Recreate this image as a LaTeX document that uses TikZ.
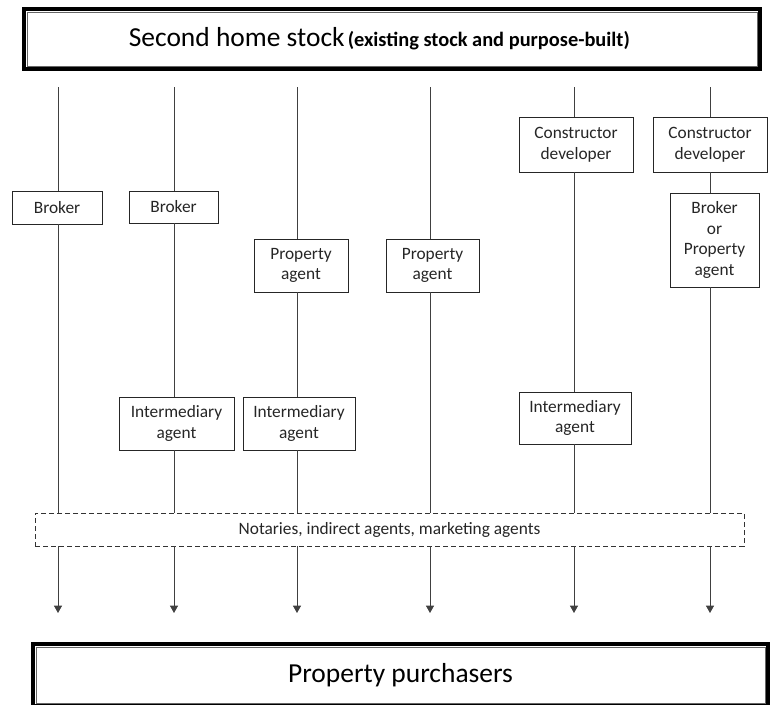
\documentclass[tikz,border=0pt]{standalone}
\usepackage{fontspec}
\setmainfont{Carlito}
\usetikzlibrary{arrows.meta}

\tikzset{
  agentbox/.style={draw=black!85, line width=0.7pt, fill=white, align=center,
                   inner sep=0pt, text=black!85,
                   font=\fontsize{13}{15.5}\selectfont},
  boxsize/.style 2 args={minimum width=#1*0.75pt, minimum height=#2*0.75pt},
  framebox/.style={draw=black, line width=2.6pt, fill=white, inner sep=0pt},
  innerframe/.style={draw=black!60, line width=0.6pt},
  notesbox/.style={agentbox, draw=black!80, dash pattern=on 4pt off 2pt},
  flow/.style={draw=black!75, line width=0.7pt},
  tip/.style={-{Triangle[width=6pt,length=5.5pt]}},
}

\begin{document}
\begin{tikzpicture}[x=0.75pt,y=-0.75pt]
\clip (0,0) rectangle (771,704);
\useasboundingbox (0,0) rectangle (771,704);

% column start and end points
\coordinate (t1) at (58,87);  \coordinate (e1) at (58,613);
\coordinate (t2) at (174,87); \coordinate (e2) at (174,613);
\coordinate (t3) at (297,87); \coordinate (e3) at (297,613);
\coordinate (t4) at (430,87); \coordinate (e4) at (430,613);
\coordinate (t5) at (574,87); \coordinate (e5) at (574,613);
\coordinate (t6) at (710,87); \coordinate (e6) at (710,613);

% top and bottom frames
\node[framebox, boxsize={736}{60}] (stock) at (392,39)
  {{\fontsize{20.6}{25}\selectfont Second home stock}
   {\fontsize{15.3}{19}\selectfont\bfseries (existing stock and purpose-built)}\hspace*{19pt}};
\draw[innerframe] ([xshift=3.6pt,yshift=3.6pt]stock.south west)
  rectangle ([xshift=-3.6pt,yshift=-3.6pt]stock.north east);

\node[framebox, boxsize={735}{62}] (buyers) at (400.5,675)
  {\fontsize{20.6}{25}\selectfont Property purchasers};
\draw[innerframe] ([xshift=3.6pt,yshift=3.6pt]buyers.south west)
  rectangle ([xshift=-3.6pt,yshift=-4pt]buyers.north east);

% agents
\node[agentbox, boxsize={90}{33}] (brk1) at (57,207.5) {Broker};
\node[agentbox, boxsize={89}{32}] (brk2) at (173.5,207) {Broker};
\node[agentbox, boxsize={94}{53}] (pa1) at (301,265.5) {Property\\agent};
\node[agentbox, boxsize={93}{53}] (pa2) at (432.5,265.5) {Property\\agent};
\node[agentbox, boxsize={114}{55}] (cd1) at (576,144.5) {Constructor\\developer};
\node[agentbox, boxsize={114}{55}] (cd2) at (710,144.5) {Constructor\\developer};
\node[agentbox, boxsize={89}{94}] (bp) at (714.5,240) {Broker\\or\\Property\\agent};
\node[agentbox, boxsize={115}{53}] (im2) at (176.5,423.5) {Intermediary\\agent};
\node[agentbox, boxsize={112}{53}] (im3) at (299,423.5) {Intermediary\\agent};
\node[agentbox, boxsize={112}{52}] (im5) at (575,418) {Intermediary\\agent};
\node[notesbox, boxsize={709}{33}] (notes) at (389.5,529.5)
  {Notaries, indirect agents, marketing agents};

% chains
\draw[flow] (t1) -- (t1 |- brk1.north) (t1 |- brk1.south) -- (t1 |- notes.north);
\draw[flow] (t2) -- (t2 |- brk2.north) (t2 |- brk2.south) -- (t2 |- im2.north)
            (t2 |- im2.south) -- (t2 |- notes.north);
\draw[flow] (t3) -- (t3 |- pa1.north) (t3 |- pa1.south) -- (t3 |- im3.north)
            (t3 |- im3.south) -- (t3 |- notes.north);
\draw[flow] (t4) -- (t4 |- pa2.north) (t4 |- pa2.south) -- (t4 |- notes.north);
\draw[flow] (t5) -- (t5 |- cd1.north) (t5 |- cd1.south) -- (t5 |- im5.north)
            (t5 |- im5.south) -- (t5 |- notes.north);
\draw[flow] (t6) -- (t6 |- cd2.north) (t6 |- cd2.south) -- (t6 |- bp.north)
            (t6 |- bp.south) -- (t6 |- notes.north);
\foreach \c in {1,...,6}
  \draw[flow, tip] (t\c |- notes.south) -- (e\c);
\end{tikzpicture}
\end{document}
